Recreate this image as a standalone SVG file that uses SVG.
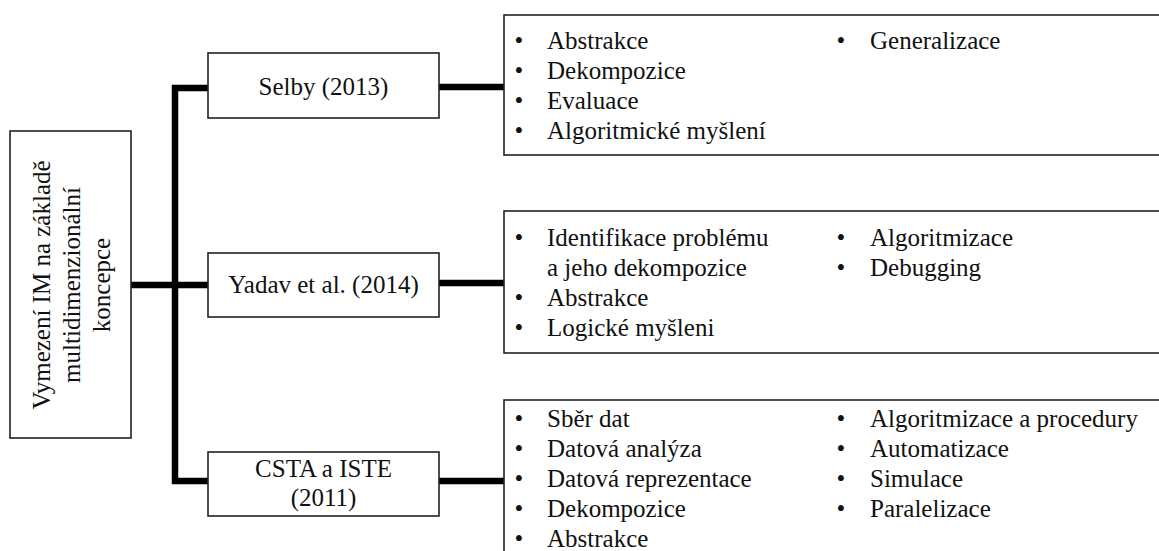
<svg xmlns="http://www.w3.org/2000/svg" width="1159" height="551" viewBox="0 0 1159 551">
<style>
  text { font-family: "Liberation Serif", "Times New Roman", serif; font-size: 25px; fill: #111; }
  .box { fill: #fff; stroke: #222; stroke-width: 1.6; }
  .mid { text-anchor: middle; }
  .conn { fill: none; stroke: #000; stroke-width: 6.5; stroke-linejoin: miter; stroke-linecap: butt; }
</style>
<rect width="1159" height="551" fill="#fff"/>
<g id="connectors">
  <path class="conn" d="M208,88 H175 V481 H208"/>
  <path class="conn" d="M131,285 H208"/>
  <path class="conn" d="M439,87 H504"/>
  <path class="conn" d="M439,283 H504"/>
  <path class="conn" d="M439,481 H504"/>
</g>
<g id="root">
  <rect class="box" x="10" y="131" width="121" height="307"/>
  <text class="mid" transform="translate(50,285) rotate(-90)">Vymezení IM na základě</text>
  <text class="mid" transform="translate(80,285) rotate(-90)">multidimenzionální</text>
  <text class="mid" transform="translate(110,285) rotate(-90)">koncepce</text>
</g>
<g id="selby">
  <rect class="box" x="208" y="53" width="231" height="65"/>
  <text class="mid" x="323.5" y="95">Selby (2013)</text>
</g>
<g id="yadav">
  <rect class="box" x="208" y="253" width="231" height="64"/>
  <text class="mid" x="323.5" y="293">Yadav et al. (2014)</text>
</g>
<g id="csta">
  <rect class="box" x="208" y="452" width="231" height="64"/>
  <text class="mid" x="323.5" y="477">CSTA a ISTE</text>
  <text class="mid" x="323.5" y="506">(2011)</text>
</g>
<g id="selby-list">
  <rect class="box" x="504" y="15" width="700" height="140"/>
  <text class="mid" x="519" y="49">•</text><text x="547" y="49">Abstrakce</text>
  <text class="mid" x="519" y="79">•</text><text x="547" y="79">Dekompozice</text>
  <text class="mid" x="519" y="109">•</text><text x="547" y="109">Evaluace</text>
  <text class="mid" x="519" y="139">•</text><text x="547" y="139">Algoritmické myšlení</text>
  <text class="mid" x="841" y="49">•</text><text x="870" y="49">Generalizace</text>
</g>
<g id="yadav-list">
  <rect class="box" x="504" y="211" width="700" height="142"/>
  <text class="mid" x="519" y="246">•</text><text x="547" y="246">Identifikace problému</text>
  <text x="547" y="276">a jeho dekompozice</text>
  <text class="mid" x="519" y="306">•</text><text x="547" y="306">Abstrakce</text>
  <text class="mid" x="519" y="336">•</text><text x="547" y="336">Logické myšleni</text>
  <text class="mid" x="841" y="246">•</text><text x="870" y="246">Algoritmizace</text>
  <text class="mid" x="841" y="276">•</text><text x="870" y="276">Debugging</text>
</g>
<g id="csta-list">
  <rect class="box" x="504" y="400" width="700" height="200"/>
  <text class="mid" x="519" y="427">•</text><text x="547" y="427">Sběr dat</text>
  <text class="mid" x="519" y="457">•</text><text x="547" y="457">Datová analýza</text>
  <text class="mid" x="519" y="487">•</text><text x="547" y="487">Datová reprezentace</text>
  <text class="mid" x="519" y="517">•</text><text x="547" y="517">Dekompozice</text>
  <text class="mid" x="519" y="547">•</text><text x="547" y="547">Abstrakce</text>
  <text class="mid" x="841" y="427">•</text><text x="870" y="427">Algoritmizace a procedury</text>
  <text class="mid" x="841" y="457">•</text><text x="870" y="457">Automatizace</text>
  <text class="mid" x="841" y="487">•</text><text x="870" y="487">Simulace</text>
  <text class="mid" x="841" y="517">•</text><text x="870" y="517">Paralelizace</text>
</g>
</svg>
